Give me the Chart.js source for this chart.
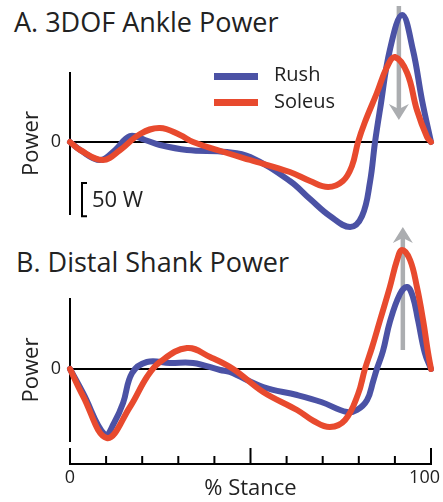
<!DOCTYPE html>
<html>
<head>
<meta charset="utf-8">
<script src="https://cdn.jsdelivr.net/npm/chart.js@4.4.1/dist/chart.umd.min.js"></script>
<style>
  body { margin: 0; background: #fff; }
  #wrap { position: relative; width: 443px; height: 502px; overflow: hidden; font-family: "Open Sans", sans-serif; color: #222; }
  canvas { position: absolute; left: 0; }
  .title { position: absolute; font-size: 27px; line-height: 1; white-space: nowrap; }
  .swatch { position: absolute; left: 214px; width: 44px; height: 7px; }
  .keytext { position: absolute; left: 274px; font-size: 20px; line-height: 1; }
</style>
</head>
<body>
<div id="wrap">
  <div class="title" style="left:14px; top:8px;">A. 3DOF Ankle Power</div>
  <div class="title" style="left:16px; top:248px;">B. Distal Shank Power</div>
  <canvas id="ankleChart" width="443" height="240" style="top:0;"></canvas>
  <canvas id="shankChart" width="443" height="292" style="top:210px;"></canvas>
  <div id="legend"></div>
</div>

<script>
var seriesNames = ['Rush', 'Soleus'];

// A. 3DOF ankle power, W vs % stance
var ankleRushStance = [0, 2.8, 8.3, 12.5, 16.6, 20.8, 24.9, 32.4, 43.5, 49.9, 60.9, 66.5, 72.0, 77.6, 80.9, 83.1, 84.5, 85.9, 88.6, 92.0, 95.0, 97.5, 100];
var ankleRushPower = [0, -12, -27, -12, 9, 3, -4.5, -12, -15, -22.5, -58.5, -85.5, -111, -127.5, -111, -60, 0, 49.5, 138, 190.5, 138, 63, 0];
var ankleSoleusStance = [0, 2.8, 9.1, 13.9, 19.4, 24.9, 30.5, 34.1, 43.5, 49.9, 60.9, 66.5, 71.5, 75.6, 78.1, 79.8, 81.7, 85.0, 87.8, 90.0, 93.4, 96.1, 98.9, 100];
var ankleSoleusPower = [0, -12, -27, -12, 12, 21, 10.5, 0, -16.5, -27, -45, -58.5, -67.5, -58.5, -36, 0, 30, 73.5, 112.5, 127.5, 103.5, 48, 7.5, 0];

// B. distal shank power
var shankRushStance = [0, 3.6, 9.7, 12.2, 14.7, 17.2, 21.3, 27.7, 34.1, 41.6, 44.3, 53.5, 62.9, 69.6, 76.7, 79.5, 82.3, 84.0, 85.0, 86.7, 88.6, 91.4, 93.4, 95.0, 96.4, 98.3, 100];
var shankRushPower = [0, -36, -99, -81, -51, -6, 10.5, 9, 9, -1.5, -4.5, -27, -39, -49.5, -64.5, -61.5, -46.5, -18, 0, 27, 70.5, 112.5, 123, 108, 73.5, 24, 0];
var shankSoleusStance = [0, 3.6, 10.2, 16.6, 21.3, 24.9, 32.4, 38.8, 45.2, 53.5, 62.9, 67.5, 72.0, 76.2, 79.8, 81.7, 83.7, 85.9, 88.6, 90.6, 92.0, 94.2, 96.1, 97.8, 99.2, 100];
var shankSoleusPower = [0, -40.5, -103.5, -57, -12, 10.5, 31.5, 18, 0, -34.5, -61.5, -78, -87, -76.5, -37.5, 0, 33, 73.5, 123, 163.5, 178.5, 163.5, 123, 73.5, 24, 0];

// grey arrows (panel A, panel B)
var arrowStance = [91.1, 92.2];
var arrowFrom = [204, 28.5];
var arrowTo = [33, 213];

var scaleBarWatts = 50;
var xTickLabels = [0, 100];

var rushColor = '#4b52a5';
var soleusColor = '#e84a2e';
var inkColor = '#222';
var fontFamily = '"Open Sans", sans-serif';

Chart.defaults.font.family = fontFamily;
Chart.defaults.color = inkColor;

// legend
var legend = document.getElementById('legend');
[rushColor, soleusColor].forEach(function (c, i) {
  var sw = document.createElement('div');
  sw.className = 'swatch';
  sw.style.background = c;
  sw.style.top = (73 + i * 26) + 'px';
  legend.appendChild(sw);
  var tx = document.createElement('div');
  tx.className = 'keytext';
  tx.style.top = (64 + i * 27) + 'px';
  tx.textContent = seriesNames[i];
  legend.appendChild(tx);
});

function toPoints(xs, ys) {
  return xs.map(function (x, i) { return { x: x, y: ys[i] }; });
}

function lineSet(name, xs, ys, color, order) {
  return {
    label: name,
    data: toPoints(xs, ys),
    borderColor: color,
    borderWidth: 6,
    pointRadius: 0,
    tension: 0.4,
    borderCapStyle: 'round',
    borderJoinStyle: 'round',
    clip: false,
    order: order
  };
}

// axis line, "Power" label, grey arrow, scale bar, inward stance ticks
var panelDecor = {
  id: 'panelDecor',
  beforeDatasetsDraw: function (chart, args, opts) {
    var ctx = chart.ctx, xs = chart.scales.x, ys = chart.scales.y;
    var left = chart.chartArea.left;

    ctx.save();
    ctx.strokeStyle = '#000';
    ctx.lineWidth = 2;
    var top = ys.getPixelForValue(opts.axisSpan[1]);
    var bottom = ys.getPixelForValue(opts.axisSpan[0]);
    ctx.beginPath();
    ctx.moveTo(left, top);
    ctx.lineTo(left, bottom);
    ctx.stroke();

    ctx.fillStyle = inkColor;
    ctx.font = '22px ' + fontFamily;
    ctx.translate(38, (top + bottom) / 2);
    ctx.rotate(-Math.PI / 2);
    ctx.textAlign = 'center';
    ctx.textBaseline = 'alphabetic';
    ctx.fillText('Power', 0, 0);
    ctx.restore();

    // grey arrow
    var i = opts.arrowIndex;
    var px = xs.getPixelForValue(arrowStance[i]);
    var y0 = ys.getPixelForValue(arrowFrom[i]);
    var y1 = ys.getPixelForValue(arrowTo[i]);
    var dir = y1 > y0 ? 1 : -1;
    ctx.save();
    ctx.strokeStyle = '#abadb0';
    ctx.fillStyle = '#abadb0';
    ctx.lineWidth = 4.5;
    ctx.beginPath();
    ctx.moveTo(px, y0);
    ctx.lineTo(px, y1 - dir * 10);
    ctx.stroke();
    ctx.beginPath();
    ctx.moveTo(px, y1);
    ctx.lineTo(px - 10, y1 - dir * 16);
    ctx.lineTo(px, y1 - dir * 11);
    ctx.lineTo(px + 10, y1 - dir * 16);
    ctx.closePath();
    ctx.fill();
    ctx.restore();
  },
  afterDraw: function (chart, args, opts) {
    var ctx = chart.ctx, xs = chart.scales.x, ys = chart.scales.y;
    ctx.save();
    ctx.strokeStyle = '#000';
    ctx.fillStyle = inkColor;
    ctx.lineWidth = 2;

    if (opts.scaleBarFrom !== undefined) {
      var bx = chart.chartArea.left + 12;
      var bTop = ys.getPixelForValue(opts.scaleBarFrom);
      var bBot = ys.getPixelForValue(opts.scaleBarFrom - scaleBarWatts);
      ctx.beginPath();
      ctx.moveTo(bx + 5, bTop);
      ctx.lineTo(bx, bTop);
      ctx.lineTo(bx, bBot);
      ctx.lineTo(bx + 5, bBot);
      ctx.stroke();
      ctx.font = '22px ' + fontFamily;
      ctx.textBaseline = 'middle';
      ctx.textAlign = 'left';
      ctx.fillText(scaleBarWatts + ' W', bx + 10, (bTop + bBot) / 2 + 1);
    }

    if (opts.stanceTicks) {
      var base = xs.top;
      xs.ticks.forEach(function (t) {
        var tx = xs.getPixelForValue(t.value);
        var len = t.value % 50 === 0 ? 16 : 8;
        ctx.beginPath();
        ctx.moveTo(tx, base);
        ctx.lineTo(tx, base - len);
        ctx.stroke();
      });
      ctx.font = '18px ' + fontFamily;
      ctx.textBaseline = 'top';
      xTickLabels.forEach(function (v, k) {
        var tx = xs.getPixelForValue(v);
        if (k === xTickLabels.length - 1) {
          ctx.textAlign = 'right';
          tx += 9;
        } else {
          ctx.textAlign = 'center';
        }
        ctx.fillText(String(v), tx, base + 5);
      });
    }
    ctx.restore();
  }
};

function makeOptions(yMin, yMax, showX, padTop, padBottom, decor) {
  return {
    responsive: false,
    animation: false,
    devicePixelRatio: 1,
    layout: { padding: { top: padTop, bottom: padBottom, left: 0, right: 12 } },
    plugins: {
      legend: { display: false },
      tooltip: { enabled: false },
      panelDecor: decor
    },
    scales: {
      x: {
        type: 'linear',
        min: 0,
        max: 100,
        display: showX,
        ticks: { display: false, stepSize: 10 },
        grid: { display: false },
        border: { display: true, color: '#000', width: 2 },
        title: {
          display: true,
          text: '% Stance',
          font: { size: 22 },
          color: inkColor,
          padding: { top: 0, bottom: 0 }
        },
        afterFit: function (scale) {
          if (!scale.options.display) return;
          scale.height = 38;
          scale.paddingLeft = 0;
          scale.paddingRight = 0;
        }
      },
      y: {
        min: yMin,
        max: yMax,
        afterBuildTicks: function (scale) { scale.ticks = [{ value: 0 }]; },
        ticks: { font: { size: 18 }, color: inkColor, padding: 9 },
        grid: { color: '#000', lineWidth: 2, drawTicks: false },
        border: { display: false },
        afterFit: function (scale) {
          scale.width = 70;
          scale.paddingTop = 0;
          scale.paddingBottom = 0;
        }
      }
    }
  };
}

new Chart(document.getElementById('ankleChart'), {
  type: 'line',
  data: {
    datasets: [
      lineSet(seriesNames[0], ankleRushStance, ankleRushPower, rushColor, 1),
      lineSet(seriesNames[1], ankleSoleusStance, ankleSoleusPower, soleusColor, 0)
    ]
  },
  options: makeOptions(-109.5, 105, false, 72, 25,
    { axisSpan: [-109.5, 105], arrowIndex: 0, scaleBarFrom: -61.5 }),
  plugins: [panelDecor]
});

new Chart(document.getElementById('shankChart'), {
  type: 'line',
  data: {
    datasets: [
      lineSet(seriesNames[0], shankRushStance, shankRushPower, rushColor, 1),
      lineSet(seriesNames[1], shankSoleusStance, shankSoleusPower, soleusColor, 0)
    ]
  },
  options: makeOptions(-142.5, 106.5, true, 88, 0,
    { axisSpan: [-109.5, 106.5], arrowIndex: 1, stanceTicks: true }),
  plugins: [panelDecor]
});
</script>
</body>
</html>
